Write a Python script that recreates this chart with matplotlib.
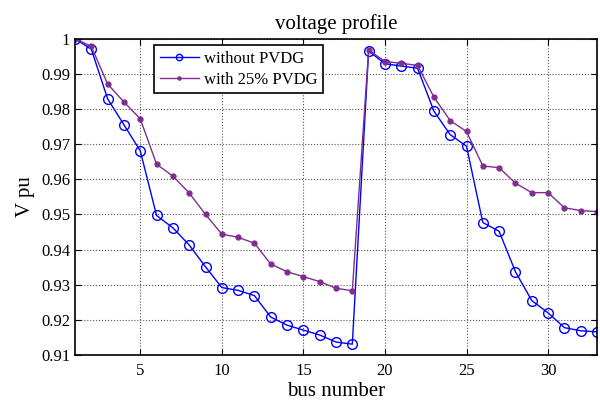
import matplotlib
matplotlib.use("Agg")
import matplotlib.pyplot as plt
from matplotlib.ticker import FixedLocator, FixedFormatter

bus = list(range(1, 34))
v_without = [1.0000, 0.9970, 0.9829, 0.9755, 0.9681, 0.9497, 0.9462, 0.9413, 0.9351,
             0.9292, 0.9284, 0.9269, 0.9208, 0.9185, 0.9171, 0.9157, 0.9137, 0.9131,
             0.9965, 0.9929, 0.9922, 0.9916, 0.9794, 0.9727, 0.9694, 0.9477, 0.9452,
             0.9337, 0.9255, 0.9220, 0.9178, 0.9169, 0.9166]
v_with = [1.0000, 0.9978, 0.9871, 0.9820, 0.9772, 0.9643, 0.9609, 0.9561, 0.9500,
          0.9444, 0.9435, 0.9418, 0.9359, 0.9337, 0.9323, 0.9309, 0.9290, 0.9283,
          0.9968, 0.9935, 0.9930, 0.9924, 0.9834, 0.9767, 0.9736, 0.9638, 0.9633,
          0.9589, 0.9562, 0.9562, 0.9519, 0.9511, 0.9508]
yticks = [0.91, 0.92, 0.93, 0.94, 0.95, 0.96, 0.97, 0.98, 0.99, 1.0]
ytick_labels = ["0.91", "0.92", "0.93", "0.94", "0.95", "0.96", "0.97", "0.98", "0.99", "1"]
xticks = [5, 10, 15, 20, 25, 30]

plt.rcParams['font.family'] = ['Liberation Serif', 'DejaVu Serif']

fig = plt.figure(figsize=(6.0, 4.03), dpi=100)
ax = fig.add_axes([0.125, 0.119, 0.87, 0.785])

ax.plot(bus, v_without, '-o', color='#0000ff', lw=1.0, ms=7, mfc='none', mew=1.0,
        label='without PVDG')
ax.plot(bus, v_with, '-', color='#7e2f8e', lw=1.0, marker='o', ms=3.5, mfc='#7e2f8e',
        mec='#7e2f8e', label='with 25% PVDG')

ax.set_xlim(1, 33)
ax.set_ylim(0.91, 1.0)
ax.xaxis.set_major_locator(FixedLocator(xticks))
ax.yaxis.set_major_locator(FixedLocator(yticks))
ax.yaxis.set_major_formatter(FixedFormatter(ytick_labels))
ax.tick_params(direction='in', top=True, right=True, labelsize=12, length=4, width=0.8)
ax.tick_params(axis='x', pad=6)
ax.grid(True, color='#555555', linestyle=':', linewidth=0.8)
for s in ax.spines.values():
    s.set_linewidth(1.2)

ax.set_title('voltage profile', fontsize=15, pad=7)
ax.set_xlabel('bus number', fontsize=15, labelpad=2)
ax.set_ylabel('V pu', fontsize=15, labelpad=4)

leg = ax.legend(loc='upper left', bbox_to_anchor=(0.151, 0.981), borderaxespad=0,
                fontsize=12, fancybox=False, edgecolor='black', framealpha=1,
                borderpad=0.35, handlelength=2.35, handletextpad=0.3,
                labelspacing=0.3, markerscale=0.65)
leg.get_frame().set_linewidth(1.2)

fig.savefig('out.png', dpi=100)
